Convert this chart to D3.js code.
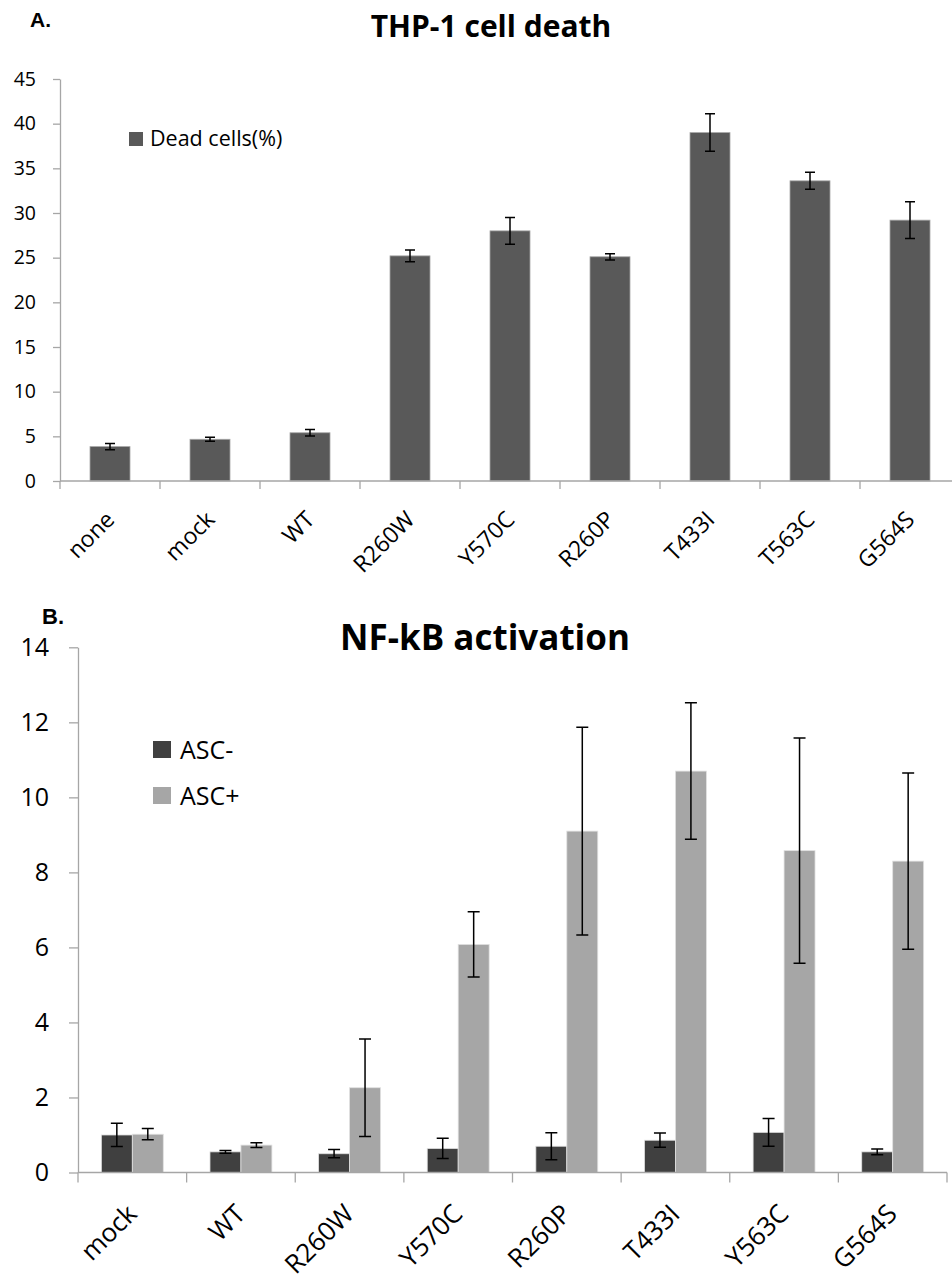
<!DOCTYPE html>
<html>
<head>
<meta charset="utf-8">
<title>THP-1 cell death / NF-kB activation</title>
<style>
  body { margin: 0; background: #fff; }
  text { font-family: 'Open Sans', sans-serif; fill: #000; }
  .axis path, .axis line { stroke: #a6a6a6; stroke-width: 1.3; }
  .err { stroke: #000; stroke-width: 1.5; fill: none; }
</style>
</head>
<body>
<div id="chart"></div>
<script src="https://cdnjs.cloudflare.com/ajax/libs/d3/7.8.5/d3.min.js"></script>
<script>
(function(d3) {
  'use strict';

  // panel A data
  var deathCats = ['none', 'mock', 'WT', 'R260W', 'Y570C', 'R260P', 'T433I', 'T563C', 'G564S'];
  var deadCells = [3.85, 4.67, 5.4, 25.2, 28.0, 25.1, 39.0, 33.6, 29.2];
  var deadErr   = [0.35, 0.22, 0.37, 0.65, 1.5, 0.35, 2.1, 0.95, 2.05];
  var deathTicks = [0, 5, 10, 15, 20, 25, 30, 35, 40, 45];

  // panel B data
  var nfkbCats = ['mock', 'WT', 'R260W', 'Y570C', 'R260P', 'T433I', 'Y563C', 'G564S'];
  var seriesNames = ['ASC-', 'ASC+'];
  var ascNeg    = [1.0, 0.55, 0.5, 0.64, 0.7, 0.86, 1.07, 0.55];
  var ascNegErr = [0.31, 0.035, 0.11, 0.27, 0.36, 0.19, 0.37, 0.075];
  var ascPos    = [1.02, 0.73, 2.26, 6.08, 9.1, 10.7, 8.58, 8.3];
  var ascPosErr = [0.15, 0.065, 1.3, 0.87, 2.77, 1.82, 3.0, 2.35];
  var nfkbTicks = [0, 2, 4, 6, 8, 10, 12, 14];

  var width = 952, height = 1278;
  var svg = d3.select('#chart').append('svg')
    .attr('width', width)
    .attr('height', height);
  svg.append('rect').attr('width', width).attr('height', height).attr('fill', '#fff');

  // ---------- Panel A ----------
  var xA = d3.scaleBand().domain(deathCats).range([60, 960])
    .paddingInner(0.6).paddingOuter(0.3);
  var yA = d3.scaleLinear().domain([0, 45]).range([481, 79]);

  svg.append('text').attr('x', 30).attr('y', 27)
    .style('font-family', 'Liberation Sans, Arial, sans-serif')
    .style('font-weight', 'bold').style('font-size', '21px').text('A.');
  svg.append('text').attr('x', 491).attr('y', 37).attr('text-anchor', 'middle')
    .style('font-weight', 'bold').style('font-size', '30px').text('THP-1 cell death');

  var axA = svg.append('g').attr('class', 'axis')
    .attr('transform', 'translate(60,0)')
    .call(d3.axisLeft(yA).tickValues(deathTicks).tickSize(7).tickSizeOuter(0).tickPadding(17));
  axA.selectAll('text').style('font-size', '19.5px');

  var dA = deathCats.map(function(c, i) { return { cat: c, v: deadCells[i], e: deadErr[i] }; });

  svg.selectAll('.barA').data(dA).enter().append('rect')
    .attr('class', 'barA')
    .attr('x', function(d) { return xA(d.cat); })
    .attr('y', function(d) { return yA(d.v); })
    .attr('width', xA.bandwidth())
    .attr('height', function(d) { return yA(0) - yA(d.v); })
    .attr('fill', '#595959')
    .attr('stroke', '#a6a6a6').attr('stroke-width', 0.8);

  // x axis A
  var gxA = svg.append('g').attr('class', 'axis');
  gxA.append('line').attr('x1', 60).attr('x2', width).attr('y1', yA(0)).attr('y2', yA(0));
  gxA.selectAll('.tk').data(deathCats).enter().append('line')
    .attr('x1', function(d) { return xA(d) - xA.step() * 0.3; })
    .attr('x2', function(d) { return xA(d) - xA.step() * 0.3; })
    .attr('y1', yA(0)).attr('y2', yA(0) + 8);

  svg.selectAll('.labA').data(deathCats).enter().append('text')
    .attr('text-anchor', 'end')
    .attr('transform', function(d) {
      return 'translate(' + (xA(d) + xA.bandwidth() / 2 + 6) + ',' + (yA(0) + 40) + ') rotate(-45)';
    })
    .style('font-size', '23px')
    .text(function(d) { return d; });

  svg.selectAll('.errA').data(dA).enter().append('path')
    .attr('class', 'err')
    .attr('d', function(d) {
      var cx = xA(d.cat) + xA.bandwidth() / 2, t = yA(d.v + d.e), b = yA(d.v - d.e);
      return 'M' + (cx - 5) + ',' + t + 'H' + (cx + 5) + 'M' + cx + ',' + t + 'V' + b +
        'M' + (cx - 5) + ',' + b + 'H' + (cx + 5);
    });

  // legend A
  svg.append('rect').attr('x', 129).attr('y', 132).attr('width', 14).attr('height', 14)
    .attr('fill', '#595959');
  svg.append('text').attr('x', 150).attr('y', 146).style('font-size', '21.5px').text('Dead cells(%)');

  // ---------- Panel B ----------
  var x0 = d3.scaleBand().domain(nfkbCats).range([78, 947])
    .paddingInner(0.43).paddingOuter(0.215);
  var x1 = d3.scaleBand().domain(seriesNames).range([0, x0.bandwidth()]);
  var yB = d3.scaleLinear().domain([0, 14]).range([1172.5, 647.3]);
  var color = d3.scaleOrdinal().domain(seriesNames).range(['#404040', '#a6a6a6']);

  svg.append('text').attr('x', 42).attr('y', 624)
    .style('font-family', 'Liberation Sans, Arial, sans-serif')
    .style('font-weight', 'bold').style('font-size', '22px').text('B.');
  svg.append('text').attr('x', 485).attr('y', 650).attr('text-anchor', 'middle')
    .style('font-weight', 'bold').style('font-size', '35px').text('NF-kB activation');

  var axB = svg.append('g').attr('class', 'axis')
    .attr('transform', 'translate(78,0)')
    .call(d3.axisLeft(yB).tickValues(nfkbTicks).tickSize(9).tickSizeOuter(0).tickPadding(20));
  axB.selectAll('text').style('font-size', '25px');

  var dB = [];
  nfkbCats.forEach(function(c, i) {
    dB.push({ cat: c, s: 'ASC-', v: ascNeg[i], e: ascNegErr[i] });
    dB.push({ cat: c, s: 'ASC+', v: ascPos[i], e: ascPosErr[i] });
  });

  svg.selectAll('.barB').data(dB).enter().append('rect')
    .attr('class', 'barB')
    .attr('x', function(d) { return x0(d.cat) + x1(d.s); })
    .attr('y', function(d) { return yB(d.v); })
    .attr('width', x1.bandwidth())
    .attr('height', function(d) { return yB(0) - yB(d.v); })
    .attr('fill', function(d) { return color(d.s); })
    .attr('stroke', '#e0e0e0').attr('stroke-width', 0.8);

  var gxB = svg.append('g').attr('class', 'axis');
  gxB.append('line').attr('x1', 78).attr('x2', 947).attr('y1', yB(0)).attr('y2', yB(0));
  gxB.selectAll('.tk').data(nfkbCats.concat(['_end'])).enter().append('line')
    .attr('x1', function(d, i) { return 78 + i * x0.step(); })
    .attr('x2', function(d, i) { return 78 + i * x0.step(); })
    .attr('y1', yB(0)).attr('y2', yB(0) + 10);

  svg.selectAll('.labB').data(nfkbCats).enter().append('text')
    .attr('text-anchor', 'end')
    .attr('transform', function(d) {
      return 'translate(' + (x0(d) + x0.bandwidth() / 2 + 6) + ',' + (yB(0) + 43) + ') rotate(-45)';
    })
    .style('font-size', '26px')
    .text(function(d) { return d; });

  svg.selectAll('.errB').data(dB).enter().append('path')
    .attr('class', 'err')
    .attr('d', function(d) {
      var cx = x0(d.cat) + x1(d.s) + x1.bandwidth() / 2, t = yB(d.v + d.e), b = yB(d.v - d.e);
      return 'M' + (cx - 6) + ',' + t + 'H' + (cx + 6) + 'M' + cx + ',' + t + 'V' + b +
        'M' + (cx - 6) + ',' + b + 'H' + (cx + 6);
    });

  // legend B
  var legB = svg.selectAll('.legB').data(seriesNames).enter().append('g')
    .attr('transform', function(d, i) { return 'translate(153,' + (741 + i * 46) + ')'; });
  legB.append('rect').attr('width', 18).attr('height', 17).attr('fill', color);
  legB.append('text').attr('x', 27).attr('y', 18).style('font-size', '25px').text(function(d) { return d; });
})(window.d3);
</script>
</body>
</html>
